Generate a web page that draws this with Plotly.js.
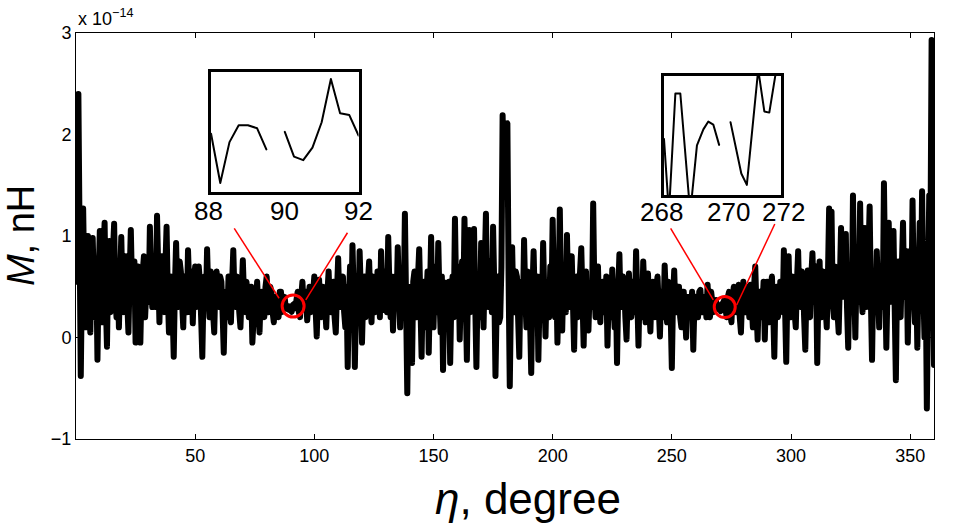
<!DOCTYPE html>
<html>
<head>
<meta charset="utf-8">
<script src="https://cdn.plot.ly/plotly-3.0.1.min.js"></script>
<style>
  html, body { margin: 0; padding: 0; background: #fff; }
  #chart path.js-line { stroke-linejoin: round; stroke-linecap: round; }
</style>
</head>
<body>
<div id="chart" style="width:961px;height:523px"></div>
<script>
// Mutual inductance M (in units of 1e-14 nH), sampled every 0.5 degree of eta from 0 to 360
const mutualInductance = [
  0.55,0.90, 2.40,-0.10, -0.38,0.60, 1.27,0.50, 0.10,0.70, 1.00,0.40, 0.05,0.65, 0.98,0.55, 0.20,0.75, -0.22,0.60,
  1.05,0.45, 0.15,0.80, 1.13,0.35, -0.09,0.70, 0.95,0.25, 0.30,0.85, 1.12,0.40, 0.20,0.75, 0.10,0.55, 0.99,0.45,
  0.25,0.65, 0.80,0.35, 0.05,0.60, 1.06,0.50, 0.35,0.75, -0.05,0.55, 0.70,0.30, -0.05,0.50, 0.60,0.80, 0.20,0.45,
  0.75,0.35, 1.09,0.60, 0.30,0.70, 0.55,0.30, 1.20,0.50, 0.15,0.65, 0.80,0.40, 0.25,0.70, 1.09,0.45, 0.05,0.55,
  0.60,0.30, -0.19,0.50, 0.93,0.40, 0.30,0.75, 0.65,0.35, 0.10,0.60, 0.55,0.25, 0.86,0.50, 0.25,0.65, 0.14,0.55,
  0.70,0.30, 0.35,0.70, 0.55,0.20, -0.19,0.45, 0.60,0.30, 0.87,0.45, 0.20,0.65, 0.50,0.25, 0.05,0.55, 0.65,0.35,
  0.30,0.60, 0.55,0.25, -0.15,0.40, 0.45,0.20, 0.60,0.35, 0.15,0.55, 0.86,0.40, 0.30,0.60, 0.50,0.25, 0.10,0.45,
  0.76,0.40, 0.25,0.55, 0.45,0.20, 0.30,0.50, -0.05,0.35, 0.40,0.25, 0.55,0.30, 0.05,0.40, 0.45,0.25, 0.20,0.50,
  0.60,0.35, 0.25,0.50, 0.45,0.25, 0.15,0.40, 0.40,0.25, 0.20,0.45, 0.45,0.25, 0.30,0.40, 0.30,0.283, 0.31,0.271,
  0.30,0.253, 0.32,0.331, 0.29,0.40, 0.45,0.25, 0.20,0.40, 0.55,0.30, 0.35,0.45, 0.17,0.40, 0.50,0.25, 0.30,0.45,
  0.60,0.30, 0.01,0.40, 0.57,0.25, 0.20,0.50, 0.45,0.30, 0.10,0.45, 0.65,0.30, 0.25,0.50, 0.55,0.20, 0.05,0.45,
  0.78,0.35, 0.30,0.55, 0.60,0.25, 0.10,0.50, -0.29,0.40, 0.70,0.25, 0.91,0.45, -0.29,0.35, 0.60,0.20, 0.85,0.45,
  -0.05,0.40, 0.60,0.20, 0.30,0.55, 0.75,0.35, 0.15,0.60, 0.55,0.25, 0.35,0.65, 0.60,0.20, 0.85,0.45, 0.27,0.65,
  0.55,0.25, 0.99,0.50, 0.20,0.60, 0.07,0.45, 0.60,0.30, 0.89,0.45, 0.10,0.60, 0.50,0.30, 1.22,0.40, -0.55,0.50,
  0.40,0.15, -0.25,0.55, 0.65,0.30, 0.20,0.60, 0.87,0.35, -0.19,0.50, 0.55,0.10, 0.30,0.65, -0.15,0.45, 0.99,0.30,
  0.10,0.55, 0.70,0.25, 0.93,0.40, 0.05,0.60, -0.32,0.35, 0.54,0.15, 0.20,0.55, -0.25,0.40, 0.60,0.20, 1.17,0.45,
  0.35,0.70, -0.02,0.50, 0.75,0.30, 1.17,0.40, -0.22,0.55, 1.06,0.25, 0.30,0.70, 1.07,0.35, -0.29,0.50, 0.55,0.20,
  0.93,0.45, 0.10,0.70, 1.22,0.35, 0.30,0.75, 0.65,0.25, 1.09,0.50, -0.38,0.30, 0.60,0.15, 0.20,0.70, 2.19,1.50,
  1.95,1.60, 2.11,0.60, -0.48,0.40, 0.89,0.30, 0.25,0.65, 0.60,0.20, -0.19,0.55, 0.50,0.25, 0.96,0.40, 0.10,0.65,
  0.55,0.20, -0.35,0.45, 0.85,0.35, 0.30,0.60, -0.22,0.40, 0.60,0.25, 0.93,0.40, 0.01,0.55, 0.45,0.20, 0.70,0.35,
  1.16,0.50, 0.20,0.65, -0.05,0.45, 1.26,0.40, 0.07,0.60, 0.55,0.25, 1.01,0.45, 0.30,0.65, 0.80,0.35, -0.12,0.50,
  0.60,0.20, 0.35,0.65, 0.88,0.30, -0.08,0.55, 0.65,0.25, 0.07,0.45, 0.50,0.30, 1.32,0.45, 0.20,0.55, 0.70,0.30,
  0.15,0.50, 0.55,0.25, 0.30,0.60, -0.08,0.40, 0.45,0.20, 0.67,0.35, 0.10,0.50, -0.25,0.45, 0.82,0.30, 0.30,0.60,
  0.55,0.20, -0.02,0.45, 0.63,0.30, 0.20,0.55, 0.50,0.25, 0.85,0.40, -0.08,0.50, 0.40,0.20, 0.75,0.35, 0.15,0.50,
  0.63,0.30, 0.06,0.45, 0.55,0.25, 0.20,0.50, 0.60,0.30, 0.01,0.45, 0.45,0.20, 0.71,0.40, 0.15,0.55, 0.50,0.25,
  -0.30,0.40, 0.66,0.25, 0.25,0.50, 0.50,0.20, 0.10,0.45, 0.45,0.25, 0.00,0.40, 0.40,0.20, 0.25,0.45, -0.12,0.35,
  0.40,0.20, 0.20,0.45, 0.47,0.25, 0.25,0.40, 0.40,0.20, 0.52,0.30, 0.20,0.45, 0.35,0.25, 0.29,0.37, 0.28,0.32,
  0.30,0.26, 0.33,0.34, 0.37,0.25, 0.20,0.40, 0.45,0.25, 0.15,0.40, 0.50,0.30, 0.25,0.45, 0.52,0.20, 0.05,0.40,
  0.55,0.25, 0.25,0.50, 0.45,0.20, 0.52,0.35, 0.10,0.50, 0.70,0.30, -0.02,0.45, 0.45,0.20, 0.30,0.55, -0.02,0.40,
  0.55,0.25, 0.15,0.50, 0.60,0.30, -0.19,0.45, 0.50,0.20, 0.30,0.55, 0.40,0.25, 0.86,0.45, -0.24,0.50, 0.80,0.30,
  0.20,0.60, 0.55,0.25, 0.10,0.55, 0.85,0.35, 0.30,0.65, 0.60,0.20, -0.12,0.50, 0.66,0.30, 0.20,0.60, 0.83,0.40,
  0.35,0.70, -0.25,0.45, 0.75,0.25, 0.20,0.65, 0.55,0.30, 0.10,0.60, 1.27,0.50, 1.24,0.35, 0.20,0.70, 0.60,0.25,
  0.05,0.55, 1.08,0.40, 0.45,0.75, 1.02,0.30, -0.10,0.55, 0.70,0.25, 1.40,0.50, 0.00,0.65, 0.65,0.35, 1.32,0.45,
  0.25,0.75, 1.08,0.30, 0.40,0.80, 1.29,0.40, -0.22,0.55, 0.60,0.25, 0.85,0.45, 0.10,0.70, 0.70,0.30, 1.52,0.60,
  -0.10,0.50, 1.13,0.35, 0.40,0.80, 1.05,0.30, -0.42,0.55, 0.75,0.25, 0.20,0.70, 1.13,0.40, 0.50,0.85, -0.05,0.55,
  0.85,0.30, 1.35,0.45, 0.15,0.70, -0.10,0.60, 1.13,0.35, 1.44,0.50, 0.00,0.65, -0.70,0.40, 1.40,0.90, 2.93,1.10,
  -0.27
];

// Fine-step detail near eta = 90 degrees (0.25 degree step, one dropped sample)
const zoomNear90 = [
  0.297, 0.215, 0.283, 0.311, 0.311, 0.306, 0.271, null,
  0.300, 0.259, 0.253, 0.274, 0.316, 0.388, 0.331, 0.328, 0.294
];

// Fine detail near eta = 270 degrees
const zoomNear270Eta = [
  268.00, 268.17, 268.39, 268.56, 268.90, 269.13, 269.35, 269.52, 269.69, 269.89,
  270.05,
  270.28, 270.65, 270.84, 271.23, 271.44, 271.61, 271.85, 272.05
];
const zoomNear270M = [
  0.294, 0.170, 0.370, 0.370, 0.170, 0.283, 0.310, 0.323, 0.318, 0.284,
  null,
  0.322, 0.236, 0.217, 0.410, 0.340, 0.338, 0.410, 0.440
];

// Tick positions and labels
const mainEtaTicks = [50, 100, 150, 200, 250, 300, 350];
const mainMTicks = [-1, 0, 1, 2, 3];
const inset90Labels = ['88', '90', '92'];
const inset90LabelEta = [88, 90, 92];
const inset270Labels = ['268', '270', '272'];
const inset270LabelEta = [268, 270.2, 272];

const traces = [
  {
    type: 'scatter', mode: 'lines',
    x0: 0, dx: 0.5, y: mutualInductance,
    line: { color: '#000', width: 6 },
    hoverinfo: 'skip', xaxis: 'x', yaxis: 'y'
  },
  {
    type: 'scatter', mode: 'lines',
    x0: 88, dx: 0.25, y: zoomNear90,
    connectgaps: false,
    line: { color: '#000', width: 2 },
    hoverinfo: 'skip', xaxis: 'x2', yaxis: 'y2'
  },
  {
    type: 'scatter', mode: 'lines',
    x: zoomNear270Eta, y: zoomNear270M,
    connectgaps: false,
    line: { color: '#000', width: 2 },
    hoverinfo: 'skip', xaxis: 'x3', yaxis: 'y3'
  }
];

const frameAxis = {
  showline: true, linecolor: '#000', linewidth: 1,
  mirror: 'ticks', ticks: 'inside', ticklen: 5, tickwidth: 1, tickcolor: '#000',
  showgrid: false, zeroline: false, fixedrange: true
};

const insetAxis = {
  showline: true, linecolor: '#000', linewidth: 3, mirror: true,
  ticks: '', showticklabels: false, showgrid: false, zeroline: false, fixedrange: true
};

const red = '#ff0000';

const annotations = [
  { xref: 'paper', yref: 'paper', x: 0, y: 1, xanchor: 'left', yanchor: 'bottom',
    yshift: 2, text: 'x 10<sup>\u221214</sup>', showarrow: false, font: { size: 18 } },
  { xref: 'paper', yref: 'paper', x: -0.064, y: 0.5, xanchor: 'center', yanchor: 'middle',
    textangle: -90, text: '<i>M</i>, nH', showarrow: false, font: { size: 38 } },
  { xref: 'paper', yref: 'paper', x: 0.527, y: -0.147, xanchor: 'center', yanchor: 'middle',
    text: '<i>\u03b7</i>, degree', showarrow: false, font: { size: 44 } }
];
// Labels under the two detail panels (the outer ones nudged a few pixels outward)
const inset90Shift = [-3, 0, 0];
const inset270Shift = [-2, 0, 3];
inset90Labels.forEach((t, i) => annotations.push({
  xref: 'x2', yref: 'y2 domain', x: inset90LabelEta[i], y: 0,
  xanchor: 'center', yanchor: 'middle', yshift: -19, xshift: inset90Shift[i],
  text: t, showarrow: false, font: { size: 26 }
}));
inset270Labels.forEach((t, i) => annotations.push({
  xref: 'x3', yref: 'y3 domain', x: inset270LabelEta[i], y: 0,
  xanchor: 'center', yanchor: 'middle', yshift: -17, xshift: inset270Shift[i],
  text: t, showarrow: false, font: { size: 26 }
}));

const layout = {
  width: 961, height: 523,
  margin: { l: 76, r: 27, t: 33, b: 84, pad: 0 },
  paper_bgcolor: '#fff', plot_bgcolor: '#fff',
  showlegend: false,
  font: { family: 'Liberation Sans, Arial, sans-serif', size: 18, color: '#000' },
  xaxis: Object.assign({}, frameAxis, {
    range: [0, 360], tickvals: mainEtaTicks, tickfont: { size: 18 }
  }),
  yaxis: Object.assign({}, frameAxis, {
    range: [-1, 3], tickvals: mainMTicks, tickfont: { size: 18 }
  }),
  xaxis2: Object.assign({}, insetAxis, { domain: [0.1574, 0.3293], anchor: 'y2', range: [88, 92] }),
  yaxis2: Object.assign({}, insetAxis, { domain: [0.6082, 0.9046], anchor: 'x2', range: [0.2, 0.4] }),
  xaxis3: Object.assign({}, insetAxis, { domain: [0.6853, 0.8213], anchor: 'y3', range: [268, 272] }),
  yaxis3: Object.assign({}, insetAxis, { domain: [0.6008, 0.8952], anchor: 'x3', range: [0.2, 0.4] }),
  shapes: [
    { type: 'circle', xref: 'x', yref: 'y', xsizemode: 'pixel', ysizemode: 'pixel',
      xanchor: 91.1, yanchor: 0.31, x0: -11, x1: 11, y0: -11, y1: 11,
      line: { color: red, width: 3 } },
    { type: 'circle', xref: 'x', yref: 'y', xsizemode: 'pixel', ysizemode: 'pixel',
      xanchor: 272.2, yanchor: 0.30, x0: -10.5, x1: 10.5, y0: -10.5, y1: 10.5,
      line: { color: red, width: 3 } },
    { type: 'line', xref: 'x', yref: 'y', x0: 66.4, y0: 1.075, x1: 85.2, y1: 0.387,
      line: { color: red, width: 1.5 } },
    { type: 'line', xref: 'x', yref: 'y', x0: 113.9, y0: 1.032, x1: 96.4, y1: 0.37,
      line: { color: red, width: 1.5 } },
    { type: 'line', xref: 'x', yref: 'y', x0: 249.5, y0: 1.075, x1: 267.4, y1: 0.37,
      line: { color: red, width: 1.5 } },
    { type: 'line', xref: 'x', yref: 'y', x0: 293.2, y0: 1.118, x1: 277.2, y1: 0.32,
      line: { color: red, width: 1.5 } }
  ],
  annotations: annotations
};

Plotly.newPlot('chart', traces, layout, { staticPlot: true, displayModeBar: false });
</script>
</body>
</html>
